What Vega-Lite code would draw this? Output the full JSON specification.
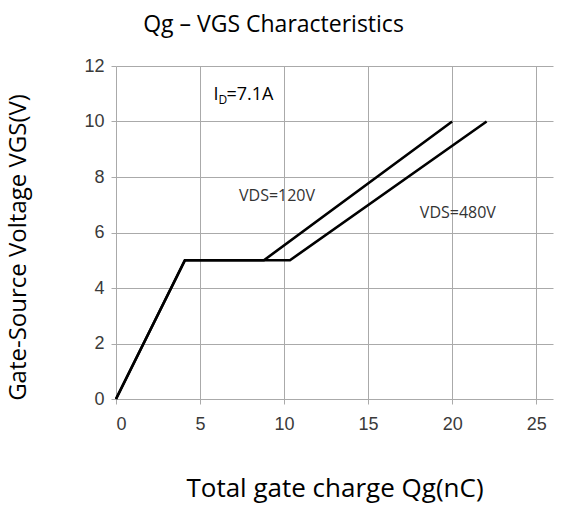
{
  "$schema": "https://vega.github.io/schema/vega-lite/v6.json",
  "autosize": {"type": "none"},
  "width": 437,
  "height": 333,
  "padding": {"left": 116, "top": 66, "right": 11, "bottom": 116},
  "background": "white",
  "title": {
    "text": "Qg – VGS Characteristics",
    "font": "Open Sans",
    "fontSize": 23,
    "fontWeight": "normal",
    "color": "#000000",
    "anchor": "middle",
    "dx": -61,
    "offset": 20
  },
  "config": {
    "view": {"stroke": null},
    "axis": {
      "grid": true,
      "gridColor": "#aaaaaa",
      "gridWidth": 1,
      "domain": false,
      "tickColor": "#aaaaaa",
      "tickSize": 5,
      "labelFont": "Liberation Sans",
      "labelFontSize": 18,
      "labelColor": "#3a3a3a",
      "titleFont": "Open Sans",
      "titleFontSize": 24,
      "titleFontWeight": "normal",
      "titleColor": "#000000"
    }
  },
  "datasets": {
    "curves": [
      {"qg": 0, "vgs": 0, "series": "VDS=120V"},
      {"qg": 4.1, "vgs": 5, "series": "VDS=120V"},
      {"qg": 8.8, "vgs": 5, "series": "VDS=120V"},
      {"qg": 20.0, "vgs": 10, "series": "VDS=120V"},
      {"qg": 0, "vgs": 0, "series": "VDS=480V"},
      {"qg": 4.1, "vgs": 5, "series": "VDS=480V"},
      {"qg": 10.35, "vgs": 5, "series": "VDS=480V"},
      {"qg": 22.05, "vgs": 10, "series": "VDS=480V"}
    ],
    "labels": [
      {"qg": 9.58, "vgs": 7.12, "label": "VDS=120V"},
      {"qg": 20.34, "vgs": 6.52, "label": "VDS=480V"}
    ],
    "current": [
      {"qg": 5.8, "vgs": 10.76, "main": "I", "sub": "D", "rest": "=7.1A"}
    ]
  },
  "layer": [
    {
      "data": {"name": "curves"},
      "mark": {"type": "line", "color": "#000000", "strokeWidth": 2.6},
      "encoding": {
        "x": {
          "field": "qg", "type": "quantitative",
          "scale": {"domain": [0, 25]},
          "axis": {"values": [0, 5, 10, 15, 20, 25], "title": "Total gate charge Qg(nC)", "titleFontSize": 26, "titleY": 97, "titleBaseline": "alphabetic", "labelPadding": 11}
        },
        "y": {
          "field": "vgs", "type": "quantitative",
          "scale": {"domain": [0, 12]},
          "axis": {"values": [0, 2, 4, 6, 8, 10, 12], "title": "Gate-Source Voltage VGS(V)", "titleX": -91, "titleY": 181, "titleBaseline": "alphabetic", "labelPadding": 7}
        },
        "detail": {"field": "series"}
      }
    },
    {
      "data": {"name": "labels"},
      "mark": {"type": "text", "font": "Open Sans", "fontSize": 16, "color": "#333333", "align": "center", "baseline": "alphabetic"},
      "encoding": {
        "x": {"field": "qg", "type": "quantitative"},
        "y": {"field": "vgs", "type": "quantitative"},
        "text": {"field": "label"}
      }
    },
    {
      "data": {"name": "current"},
      "mark": {"type": "text", "font": "Open Sans", "fontSize": 18, "color": "#000000", "align": "left", "baseline": "alphabetic"},
      "encoding": {
        "x": {"field": "qg", "type": "quantitative"},
        "y": {"field": "vgs", "type": "quantitative"},
        "text": {"field": "main"}
      }
    },
    {
      "data": {"name": "current"},
      "mark": {"type": "text", "font": "Open Sans", "fontSize": 12, "color": "#000000", "align": "left", "baseline": "alphabetic", "dx": 5, "dy": 4},
      "encoding": {
        "x": {"field": "qg", "type": "quantitative"},
        "y": {"field": "vgs", "type": "quantitative"},
        "text": {"field": "sub"}
      }
    },
    {
      "data": {"name": "current"},
      "mark": {"type": "text", "font": "Open Sans", "fontSize": 18, "color": "#000000", "align": "left", "baseline": "alphabetic", "dx": 13},
      "encoding": {
        "x": {"field": "qg", "type": "quantitative"},
        "y": {"field": "vgs", "type": "quantitative"},
        "text": {"field": "rest"}
      }
    }
  ]
}
